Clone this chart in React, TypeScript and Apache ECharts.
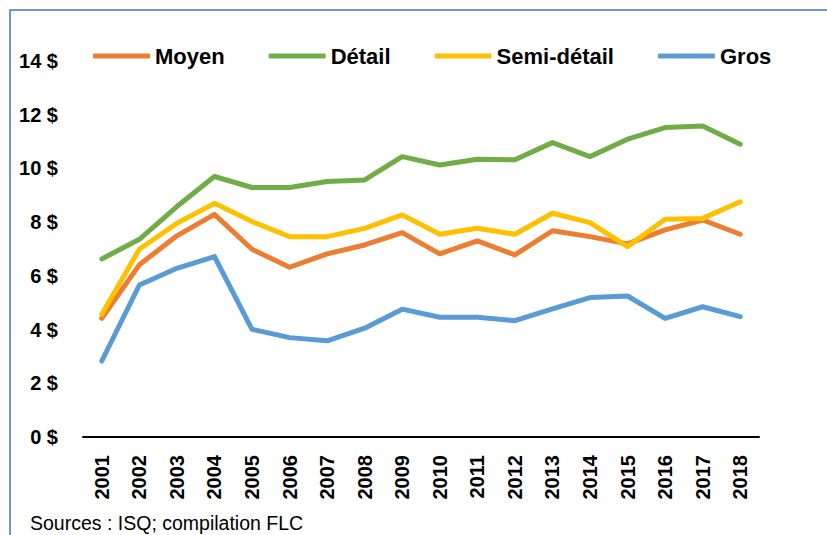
import React, { useEffect, useRef } from "react";
import * as echarts from "echarts";

const years = ["2001","2002","2003","2004","2005","2006","2007","2008","2009","2010","2011","2012","2013","2014","2015","2016","2017","2018"];
const moyen = [4.42, 6.41, 7.49, 8.29, 6.99, 6.32, 6.82, 7.15, 7.61, 6.82, 7.30, 6.78, 7.68, 7.46, 7.19, 7.71, 8.08, 7.55];
const detail = [6.63, 7.36, 8.58, 9.70, 9.29, 9.29, 9.51, 9.57, 10.44, 10.13, 10.34, 10.32, 10.96, 10.44, 11.09, 11.52, 11.58, 10.90];
const semiDetail = [4.57, 6.99, 7.96, 8.70, 8.02, 7.46, 7.46, 7.77, 8.27, 7.55, 7.77, 7.55, 8.33, 7.98, 7.09, 8.11, 8.14, 8.76];
const gros = [2.83, 5.66, 6.28, 6.72, 4.01, 3.70, 3.58, 4.05, 4.76, 4.46, 4.46, 4.33, 4.77, 5.19, 5.25, 4.42, 4.85, 4.48];

const FONT = "'Liberation Sans', Arial, sans-serif";

export default function App() {
  const ref = useRef<HTMLDivElement>(null);
  useEffect(() => {
    if (!ref.current) return;
    const chart = echarts.init(ref.current, null, { renderer: "svg" });
    const mk = (name: string, data: number[], color: string) => ({
      name,
      type: "line",
      data,
      symbol: "none",
      smooth: false,
      itemStyle: { color },
      lineStyle: { color, width: 5, cap: "round", join: "round" },
    });
    chart.setOption({
      animation: false,
      backgroundColor: "#fff",
      textStyle: { fontFamily: FONT },
      legend: {
        top: 40,
        left: 88,
        itemWidth: 57,
        itemHeight: 5,
        itemGap: 44,
        icon: "roundRect",
        textStyle: { fontFamily: FONT, fontSize: 22, fontWeight: "bold", color: "#000" },
        data: ["Moyen", "Détail", "Semi-détail", "Gros"],
      },
      grid: { left: 83, right: 68, top: 61, bottom: 98, containLabel: false },
      xAxis: {
        type: "category",
        data: years,
        boundaryGap: true,
        axisLine: { lineStyle: { color: "#000", width: 2 } },
        axisTick: { show: false },
        axisLabel: {
          rotate: 90,
          margin: 18,
          fontFamily: FONT,
          fontSize: 20,
          fontWeight: "bold",
          color: "#000",
          interval: 0,
        },
      },
      yAxis: {
        type: "value",
        min: 0,
        max: 14,
        interval: 2,
        axisLine: { show: false },
        axisTick: { show: false },
        splitLine: { show: false },
        axisLabel: {
          formatter: "{value} $",
          margin: 25,
          fontFamily: FONT,
          fontSize: 20,
          fontWeight: "bold",
          color: "#000",
        },
      },
      graphic: [
        {
          type: "rect",
          shape: { x: 10, y: 10, width: 840, height: 560 },
          style: { fill: "none", stroke: "#4472C4", lineWidth: 1.5 },
          silent: true,
        },
        {
          type: "text",
          left: 30,
          top: 513,
          style: {
            text: "Sources : ISQ; compilation FLC",
            fontFamily: FONT,
            fontSize: 19.5,
            fill: "#000",
          },
        },
      ],
      series: [
        mk("Moyen", moyen, "#ED7D31"),
        mk("Détail", detail, "#70AD47"),
        mk("Semi-détail", semiDetail, "#FFC000"),
        mk("Gros", gros, "#5B9BD5"),
      ],
    });
    return () => chart.dispose();
  }, []);
  return (
    <div
      ref={ref}
      style={{ position: "fixed", left: 0, top: 0, width: 827, height: 535 }}
    />
  );
}
